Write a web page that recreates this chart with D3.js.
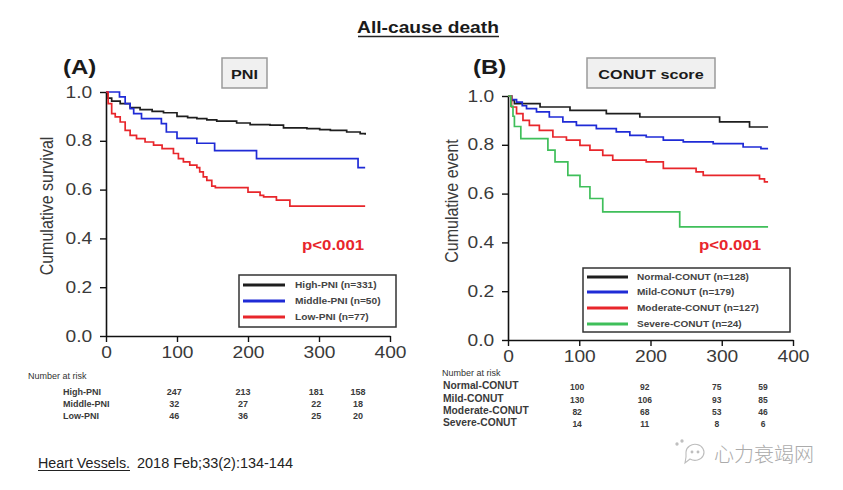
<!DOCTYPE html>
<html><head><meta charset="utf-8">
<script src="https://cdn.jsdelivr.net/npm/d3@7"></script>
<style>body{margin:0;background:#fff} svg{display:block}</style>
</head><body><svg id="c" width="843" height="490"></svg>
<script>
// ---------------- data ----------------
const xTicks = [0, 100, 200, 300, 400];
const yTicks = [0, 0.2, 0.4, 0.6, 0.8, 1.0];

const pniLabels = ["High-PNI (n=331)", "Middle-PNI (n=50)", "Low-PNI (n=77)"];
const highPNI = [[0,1],[2,0.975],[8,0.963],[20,0.952],[34,0.936],[48,0.928],[65,0.921],[81,0.915],[100,0.900],[115,0.895],[128,0.891],[142,0.886],[156,0.881],[184,0.873],[203,0.866],[231,0.864],[250,0.853],[283,0.850],[301,0.846],[316,0.843],[339,0.836],[358,0.829],[365,0.825]];
const middlePNI = [[0,1],[19,0.98],[27,0.952],[34,0.932],[39,0.911],[50,0.891],[78,0.87],[85,0.836],[100,0.81],[128,0.79],[153,0.76],[212,0.727],[355,0.69],[365,0.69]];
const lowPNI = [[0,1],[3,0.952],[8,0.911],[13,0.898],[20,0.877],[27,0.843],[34,0.822],[43,0.809],[55,0.795],[67,0.782],[79,0.768],[95,0.748],[102,0.727],[109,0.714],[118,0.700],[128,0.690],[132,0.673],[137,0.652],[142,0.638],[149,0.614],[154,0.608],[200,0.590],[217,0.576],[222,0.570],[240,0.557],[259,0.532],[365,0.532]];

const conutLabels = ["Normal-CONUT  (n=128)", "Mild-CONUT  (n=179)", "Moderate-CONUT  (n=127)", "Severe-CONUT  (n=24)"];
const normalCONUT = [[0,1],[5,0.982],[9,0.969],[45,0.955],[87,0.941],[138,0.928],[185,0.914],[297,0.894],[339,0.873],[365,0.873]];
const mildCONUT = [[0,1],[5,0.985],[12,0.975],[20,0.96],[26,0.948],[40,0.935],[58,0.914],[77,0.894],[96,0.88],[124,0.866],[152,0.853],[171,0.839],[194,0.832],[218,0.819],[246,0.812],[288,0.805],[330,0.791],[355,0.784],[365,0.784]];
const moderateCONUT = [[0,1],[5,0.955],[12,0.928],[21,0.90],[30,0.88],[44,0.859],[63,0.832],[82,0.819],[101,0.798],[115,0.778],[133,0.757],[147,0.737],[194,0.73],[218,0.703],[264,0.689],[274,0.675],[353,0.66],[360,0.648],[365,0.648]];
const severeCONUT = [[0,1],[4,0.958],[7,0.917],[9,0.875],[18,0.825],[56,0.778],[66,0.73],[84,0.675],[101,0.628],[115,0.58],[133,0.525],[241,0.464],[365,0.464]];

const pniRiskRows = ["High-PNI", "Middle-PNI", "Low-PNI"];
const pniRiskDays = [96, 193, 296, 355];
const pniRisk = [[247,213,181,158],[32,27,22,18],[46,36,25,20]];

const conutRiskRows = ["Normal-CONUT", "Mild-CONUT", "Moderate-CONUT", "Severe-CONUT"];
const conutRiskDays = [97, 192, 293, 358];
const conutRisk = [[100,92,75,59],[130,106,93,85],[82,68,53,46],[14,11,8,6]];

// ---------------- drawing ----------------
const svg = d3.select("#c");
svg.append("rect").attr("width",843).attr("height",490).attr("fill","#fff");
const FONT = "'Liberation Sans', Arial, sans-serif";
const colors = {black:"#1e1e1e", blue:"#1f2bd6", red:"#e8262b", green:"#3fbf5a"};

function T(parent, x, y, str, o={}) {
  return parent.append("text")
    .attr("transform", `translate(${x},${y}) scale(${o.sx ?? 1.2},1)`)
    .attr("text-anchor", o.anchor || "start")
    .attr("font-family", o.family || FONT)
    .attr("font-size", o.size || 16)
    .attr("font-weight", o.weight || "normal")
    .attr("fill", o.fill || "#222")
    .text(str);
}

// Title
T(svg, 428, 33, "All-cause death", {size:16, weight:"bold", anchor:"middle", fill:"#1a1a1a"});
svg.append("line").attr("x1",358).attr("x2",499).attr("y1",36.5).attr("y2",36.5).attr("stroke","#222").attr("stroke-width",1.3);

function panel(cfg) {
  const x = d3.scaleLinear().domain([0,400]).range([cfg.x0, cfg.x1]);
  const y = d3.scaleLinear().domain([0,1]).range([cfg.y0, cfg.y1]);
  const g = svg.append("g");

  const ax = g.append("g").attr("transform",`translate(0,${cfg.y0})`)
    .call(d3.axisBottom(x).tickValues(xTicks).tickSize(6).tickPadding(5).tickSizeOuter(0));
  const ay = g.append("g").attr("transform",`translate(${cfg.x0},0)`)
    .call(d3.axisLeft(y).tickValues(yTicks).tickFormat(d3.format(".1f")).tickSize(6).tickPadding(5.5).tickSizeOuter(0));
  [ax, ay].forEach(a => {
    a.select(".domain").attr("stroke","#111").attr("stroke-width",1.6);
    a.selectAll(".tick line").attr("stroke","#111").attr("stroke-width",1.4);
    a.selectAll(".tick text").attr("font-family",FONT).attr("font-size",16).attr("fill","#3a3a3a")
      .attr("transform","scale(1.2,1)");
  });

  g.append("text")
    .attr("transform",`translate(${cfg.ylabX},${cfg.ylabY}) scale(1.15,1) rotate(-90)`)
    .attr("text-anchor","middle").attr("dy","0.35em")
    .attr("font-family",FONT).attr("font-size",16).attr("fill","#3a3a3a")
    .text(cfg.ylab);

  const line = d3.line().x(d => x(d[0])).y(d => y(d[1])).curve(d3.curveStepAfter);
  cfg.series.forEach(s => {
    g.append("path").datum(s.data).attr("d", line).attr("fill","none")
      .attr("stroke", s.color).attr("stroke-width",1.7);
  });

  T(g, cfg.letterX, 74, cfg.letter, {size:20, weight:"bold", fill:"#1a1a1a"});
  g.append("rect").attr("x",cfg.boxX).attr("y",58).attr("width",cfg.boxW).attr("height",30)
    .attr("fill","#f0f0f0").attr("stroke","#9a9a9a").attr("stroke-width",1.5);
  T(g, cfg.boxX + cfg.boxW/2, 79, cfg.boxText, {size:13.5, weight:"bold", anchor:"middle", fill:"#1a1a1a", sx:1.2});

  T(g, cfg.pX, 250, "p<0.001", {size:14, weight:"bold", fill:"#e8262b"});

  const L = cfg.legend;
  g.append("rect").attr("x",L.x).attr("y",L.y).attr("width",L.w).attr("height",L.h)
    .attr("fill","#fff").attr("stroke","#333").attr("stroke-width",1.5);
  cfg.series.forEach((s,i) => {
    const yy = L.rowY[i];
    g.append("line").attr("x1",L.lx0).attr("x2",L.lx1).attr("y1",yy).attr("y2",yy)
      .attr("stroke", s.color).attr("stroke-width",3);
    T(g, L.tx, yy + 3, s.label, {size:L.fs, weight:"bold", fill:"#444", sx:L.sx});
  });

  const R = cfg.risk;
  T(g, R.headX, R.headY, "Number at risk", {size:9, fill:"#333", sx:1.0});
  R.rows.forEach((name,i) => {
    T(g, R.nameX, R.rowY[i], name, {size:R.nameFs, weight:"bold", fill:"#3a3a3a", sx:1.0});
    R.vals[i].forEach((v,j) => {
      T(g, x(R.days[j]), R.rowY[i] + R.numDy, String(v), {size:R.numFs, weight:"bold", fill:"#3a3a3a", sx:1.0, anchor:"middle"});
    });
  });
}

panel({
  x0:106, x1:390, y0:336, y1:92,
  ylab:"Cumulative survival", ylabX:47, ylabY:206,
  letter:"(A)", letterX:63, boxX:222, boxW:45, boxText:"PNI", pX:302,
  series:[
    {data:highPNI, color:colors.black, label:pniLabels[0]},
    {data:middlePNI, color:colors.blue, label:pniLabels[1]},
    {data:lowPNI, color:colors.red, label:pniLabels[2]}
  ],
  legend:{x:239, y:275, w:157, h:52, rowY:[285,301,317], lx0:243, lx1:285, tx:295, fs:9, sx:1.13},
  risk:{headX:28, headY:379, nameX:63, rowY:[395,407,419], rows:pniRiskRows, vals:pniRisk, days:pniRiskDays, nameFs:9, numFs:9, numDy:0}
});

panel({
  x0:508, x1:793, y0:340, y1:96,
  ylab:"Cumulative event", ylabX:452, ylabY:201,
  letter:"(B)", letterX:473, boxX:587, boxW:128, boxText:"CONUT  score", pX:699,
  series:[
    {data:normalCONUT, color:colors.black, label:conutLabels[0]},
    {data:mildCONUT, color:colors.blue, label:conutLabels[1]},
    {data:moderateCONUT, color:colors.red, label:conutLabels[2]},
    {data:severeCONUT, color:colors.green, label:conutLabels[3]}
  ],
  legend:{x:583, y:268, w:207, h:64, rowY:[277,292,308,324], lx0:587, lx1:628, tx:637, fs:8.6, sx:1.17},
  risk:{headX:442, headY:376, nameX:443, rowY:[389,402,414,426], rows:conutRiskRows, vals:conutRisk, days:conutRiskDays, nameFs:10.3, numFs:8.5, numDy:1}
});

// footer
svg.append("text").attr("x",38).attr("y",468).attr("font-family","'Liberation Sans Narrow', 'Liberation Sans', Arial, sans-serif")
  .attr("font-size",14).attr("fill","#222").attr("textLength",92).attr("lengthAdjust","spacingAndGlyphs").text("Heart Vessels.");
svg.append("line").attr("x1",38).attr("x2",130).attr("y1",470.5).attr("y2",470.5).attr("stroke","#222").attr("stroke-width",1);
svg.append("text").attr("x",137).attr("y",468).attr("font-family","'Liberation Sans Narrow', 'Liberation Sans', Arial, sans-serif")
  .attr("font-size",14).attr("fill","#222").attr("textLength",156).attr("lengthAdjust","spacingAndGlyphs").text("2018 Feb;33(2):134-144");

// watermark
const wm = svg.append("g").attr("fill","none").attr("stroke","#bdbdbd").attr("stroke-width",1.1);
wm.append("path").attr("d","M686,452 a9,8 0 1,1 4,7 l-5,4 l1,-6 z");
wm.append("circle").attr("cx",692).attr("cy",452).attr("r",0.9).attr("fill","#bdbdbd");
wm.append("circle").attr("cx",698).attr("cy",452).attr("r",0.9).attr("fill","#bdbdbd");
wm.append("circle").attr("cx",677).attr("cy",444).attr("r",1.1).attr("fill","#bdbdbd");
wm.append("circle").attr("cx",682).attr("cy",441).attr("r",1.1).attr("fill","#bdbdbd");
svg.append("text").attr("x",714).attr("y",462).attr("font-family","'Noto Sans CJK SC', sans-serif")
  .attr("font-size",20).attr("font-weight",300).attr("fill","#ababab").text("心力衰竭网");
</script></body></html>
